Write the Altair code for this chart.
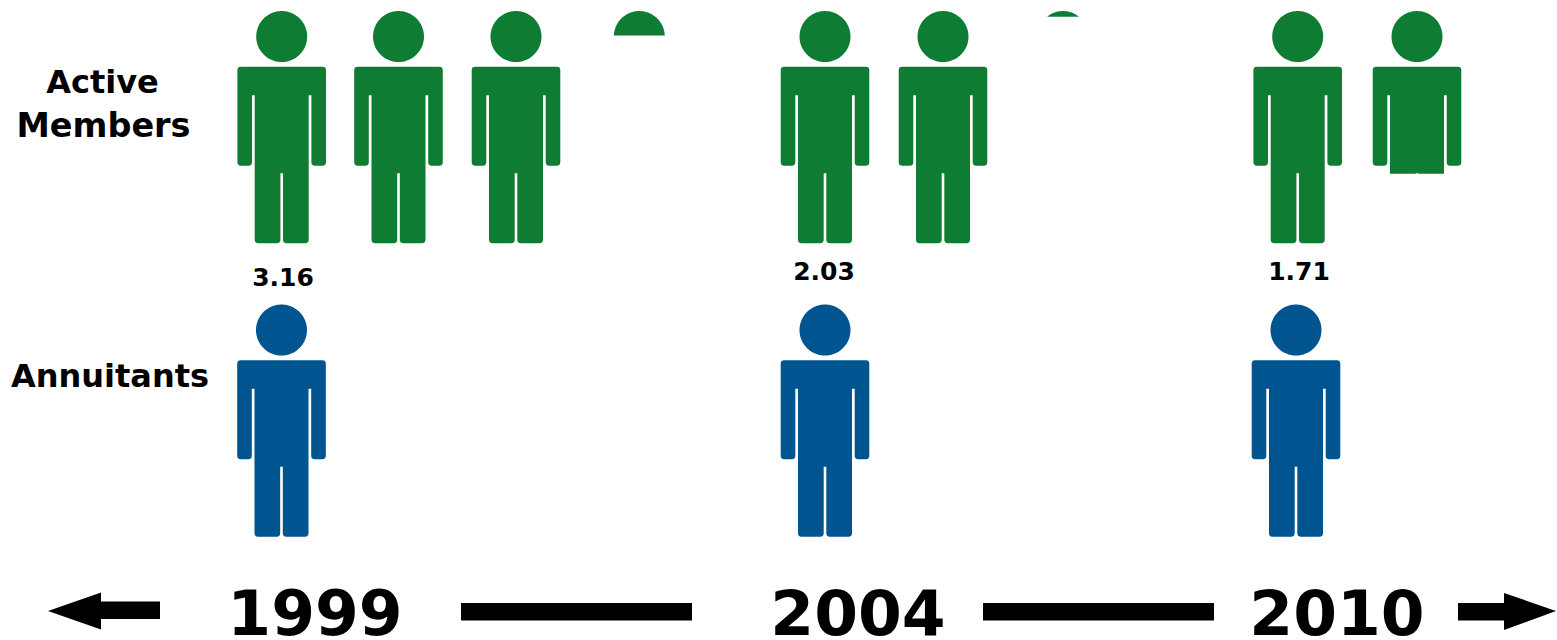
import math

import altair as alt
import pandas as pd

# Workers per annuitant in each year
years = ["1999", "2004", "2010"]
ratios = ["3.16", "2.03", "1.71"]
year_label_x = [315, 858, 1337]
ratio_label_x = [283, 824, 1299]
ratio_label_y = [286, 280, 280]

# Each figure in the active-member row and the share of its height that is filled
active_x = [281.7, 398.5, 516.0, 639.3, 825.0, 943.0, 1063.0, 1297.7, 1417.0]
active_share = [1.0, 1.0, 1.0, 0.105, 1.0, 1.0, 0.024, 1.0, 0.70]
annuitant_x = [281.5, 825.0, 1296.0]

ROW_CENTER_ACTIVE = 127.2
ROW_CENTER_ANNUITANT = 420.7

# Row captions
caption_text = ["Active", "Members", "Annuitants"]
caption_x = [102.5, 103.5, 110]
caption_y = [92.5, 136.5, 386.5]
caption_size = [32, 33.5, 32]

# Time line under the figures
segment_start = [101, 461, 983, 1458]
segment_end = [160, 692, 1214, 1505]
segment_top = [601.5, 603, 603, 603]
segment_bottom = [619, 620.5, 620.5, 620.5]
arrow_left_x = [48, 101]
arrow_left_top = [611, 592.5]
arrow_left_bottom = [611, 629.5]
arrow_right_x = [1504, 1556]
arrow_right_top = [593, 611]
arrow_right_bottom = [630, 611]

GREEN = "#0f7c33"
BLUE = "#00548f"
FIGURE_H = 232.3


def person_path(share):
    """Pictogram outline in symbol units (-1..1), cut off below `share` of its height."""
    half = FIGURE_H / 2
    cut = share * FIGURE_H

    def sx(v):
        return f"{v / half:.4f}"

    def sy(v):
        return f"{(v - half) / half:.4f}"

    def box(x0, x1, y0, y1, round_top=False, round_bottom=False):
        if y0 >= cut:
            return ""
        if y1 > cut:
            y1, round_bottom = cut, False
        r = 3.5
        d = ""
        if round_top:
            d += f"M{sx(x0)} {sy(y0 + r)}Q{sx(x0)} {sy(y0)} {sx(x0 + r)} {sy(y0)}"
            d += f"L{sx(x1 - r)} {sy(y0)}Q{sx(x1)} {sy(y0)} {sx(x1)} {sy(y0 + r)}"
        else:
            d += f"M{sx(x0)} {sy(y0)}L{sx(x1)} {sy(y0)}"
        if round_bottom:
            d += f"L{sx(x1)} {sy(y1 - r)}Q{sx(x1)} {sy(y1)} {sx(x1 - r)} {sy(y1)}"
            d += f"L{sx(x0 + r)} {sy(y1)}Q{sx(x0)} {sy(y1)} {sx(x0)} {sy(y1 - r)}"
        else:
            d += f"L{sx(x1)} {sy(y1)}L{sx(x0)} {sy(y1)}"
        return d + "Z"

    # Head: a many-sided circle whose points are flattened onto the cut line
    radius, head_y = 25.5, 25.5
    points = []
    for step in range(120):
        a = math.pi + step * 2 * math.pi / 120
        px, py = radius * math.cos(a), head_y + radius * math.sin(a)
        if py <= cut:
            points.append((px, py))
    if cut < head_y + radius:
        dx = math.sqrt(radius**2 - (cut - head_y) ** 2)
        points = [(-dx, cut)] + [p for p in points if abs(p[0]) < dx] + [(dx, cut)]
    head = "M" + "L".join(f"{sx(px)} {sy(py)}" for px, py in points) + "Z"

    # Shoulders, arms, trunk and legs
    parts = [
        box(-44.3, 44.3, 55.7, 84.3, round_top=True),
        box(-44.3, -29.7, 83.3, 154.7, round_bottom=True),
        box(29.7, 44.3, 83.3, 154.7, round_bottom=True),
        box(-27, 27, 83.3, 162.3),
        box(-27, -1.3, 161.3, 232.3, round_bottom=True),
        box(1.3, 27, 161.3, 232.3, round_bottom=True),
    ]
    return head + "".join(parts)


x_scale = alt.Scale(domain=[0, 1557], range=[0, 1557], nice=False, zero=False)
y_scale = alt.Scale(domain=[640, 0], nice=False, zero=False)
X = alt.X("x:Q", scale=x_scale, axis=None)
Y = alt.Y("y:Q", scale=y_scale, axis=None)

people = pd.DataFrame(
    {
        "x": active_x + annuitant_x,
        "y": [ROW_CENTER_ACTIVE] * len(active_x) + [ROW_CENTER_ANNUITANT] * len(annuitant_x),
        "outline": [person_path(s) for s in active_share] + [person_path(1.0)] * len(annuitant_x),
        "group": ["Active Members"] * len(active_x) + ["Annuitants"] * len(annuitant_x),
    }
)

figures = (
    alt.Chart(people)
    .mark_point(filled=True, opacity=1, strokeWidth=0)
    .encode(
        x=X,
        y=Y,
        shape=alt.Shape("outline:N", scale=None),
        size=alt.value(FIGURE_H**2),
        color=alt.Color(
            "group:N",
            scale=alt.Scale(domain=["Active Members", "Annuitants"], range=[GREEN, BLUE]),
            legend=None,
        ),
    )
)

# One layer per caption so that each line keeps its own type size
captions = [
    alt.Chart(pd.DataFrame({"x": [cx], "y": [cy], "t": [ct]}))
    .mark_text(font="DejaVu Sans", fontWeight="bold", fontSize=cs, color="#000000", baseline="alphabetic", align="center")
    .encode(x=X, y=Y, text="t:N")
    for ct, cx, cy, cs in zip(caption_text, caption_x, caption_y, caption_size)
]

ratio_labels = (
    alt.Chart(pd.DataFrame({"x": ratio_label_x, "y": ratio_label_y, "t": ratios}))
    .mark_text(font="DejaVu Sans", fontWeight="bold", fontSize=25, color="#000000", baseline="alphabetic", align="center")
    .encode(x=X, y=Y, text="t:N")
)

year_labels = (
    alt.Chart(pd.DataFrame({"x": year_label_x, "y": [635] * 3, "t": years}))
    .mark_text(font="DejaVu Sans", fontWeight="bold", fontSize=63, color="#000000", baseline="alphabetic", align="center")
    .encode(x=X, y=Y, text="t:N")
)

segments = (
    alt.Chart(
        pd.DataFrame(
            {"x": segment_start, "x2": segment_end, "y": segment_top, "y2": segment_bottom}
        )
    )
    .mark_rect(color="#000000")
    .encode(x=X, x2="x2:Q", y=Y, y2="y2:Q")
)

arrow_left = (
    alt.Chart(pd.DataFrame({"x": arrow_left_x, "y": arrow_left_top, "y2": arrow_left_bottom}))
    .mark_area(color="#000000", opacity=1)
    .encode(x=X, y=Y, y2="y2:Q")
)

arrow_right = (
    alt.Chart(pd.DataFrame({"x": arrow_right_x, "y": arrow_right_top, "y2": arrow_right_bottom}))
    .mark_area(color="#000000", opacity=1)
    .encode(x=X, y=Y, y2="y2:Q")
)

chart = (
    alt.layer(figures, *captions, ratio_labels, segments, arrow_left, arrow_right, year_labels)
    .properties(width=1557, height=640, padding=0, background="#ffffff", autosize=alt.AutoSizeParams(type="none"))
    .configure_view(stroke=None)
)

chart.save("out.html", embed_options={"renderer": "svg", "actions": False})
